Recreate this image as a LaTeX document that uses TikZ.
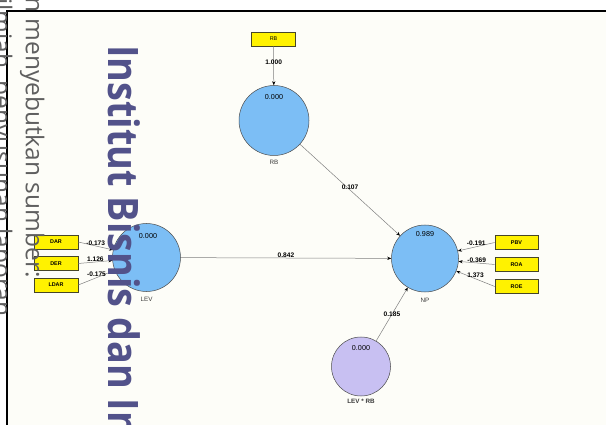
\documentclass[tikz,border=0pt]{standalone}
\usepackage{fontspec}
\setmainfont{Liberation Sans}
\newfontfamily\wmfont{Open Sans}
\newfontfamily\wmboldfont{Open Sans}[FakeStretch=0.9]
\usetikzlibrary{arrows.meta}
\definecolor{bgc}{RGB}{253,253,248}
\definecolor{latfill}{RGB}{124,190,245}
\definecolor{intfill}{RGB}{200,192,242}
\definecolor{latdraw}{RGB}{75,75,75}
\definecolor{edgec}{RGB}{128,128,128}
\definecolor{boxdraw}{RGB}{70,70,40}
\definecolor{wmblue}{RGB}{82,82,138}
\definecolor{wmgray}{RGB}{95,95,95}
\definecolor{capc}{RGB}{60,60,60}
\begin{document}
\begin{tikzpicture}[x=1pt,y=-1pt,
  latent/.style={circle, draw=latdraw, line width=0.5pt, fill=latfill, inner sep=0pt},
  ind/.style={rectangle, draw=boxdraw, line width=0.6pt, fill=yellow, minimum width=44pt, minimum height=14pt, inner sep=0pt, font=\fontsize{5.4}{6}\selectfont\bfseries},
  pathar/.style={draw=edgec, line width=0.5pt, -{Stealth[length=4pt,width=3.2pt,color=black]}},
  coef/.style={font=\fontsize{6.6}{7}\selectfont\bfseries, inner sep=0.6pt, text=black},
  valtxt/.style={font=\fontsize{7.2}{8}\selectfont, inner sep=0pt},
  captxt/.style={font=\fontsize{6.3}{7}\selectfont, text=capc, inner sep=0pt},
  wmbig/.style={rotate=-90, anchor=base west, text=wmblue, inner sep=0pt, font=\wmboldfont\bfseries\fontsize{42}{50}\selectfont},
  wmsmall/.style={rotate=-90, anchor=base west, text=wmgray, inner sep=0pt, font=\wmfont\fontsize{24.5}{30}\selectfont}
]
\useasboundingbox (0,0) rectangle (606,425);
\fill[white] (0,0) rectangle (606,425);
\fill[bgc] (7,11) rectangle (606,425);

% latent variables
\node[latent, minimum size=70pt] (RB) at (274,120.5) {};
\node[latent, minimum size=68pt] (LEV) at (146.5,257.5) {};
\node[latent, minimum size=67pt] (NP) at (425,258.5) {};
\node[latent, fill=intfill, minimum size=59pt] (LEVRB) at (361,366.5) {};

\node[valtxt] (RBv) at (274,97) {0.000};
\node[valtxt] (LEVv) at (148,236) {0.000};
\node[valtxt] (NPv) at (425,234) {0.989};
\node[valtxt] (LEVRBv) at (361,348) {0.000};

\node[captxt] (RBc) at (274,162) {RB};
\node[captxt] (LEVc) at (146.5,299) {LEV};
\node[captxt] (NPc) at (425,300) {NP};
\node[captxt, font=\fontsize{6.3}{7}\selectfont\bfseries] (LEVRBc) at (361,401) {LEV * RB};

% indicators
\node[ind, font=\fontsize{5.4}{6}\selectfont] (RBi) at (273.5,39) {RB};
\node[ind] (DAR) at (56,242) {DAR};
\node[ind] (DER) at (56,263.5) {DER};
\node[ind] (LDAR) at (56,285) {LDAR};
\node[ind, minimum width=43pt] (PBV) at (516.5,242.5) {PBV};
\node[ind, minimum width=43pt] (ROA) at (516.5,264.5) {ROA};
\node[ind, minimum width=43pt] (ROE) at (516.5,286.5) {ROE};

% paths
\draw[pathar] (RBi) -- node[coef, above] {1.000} (RB);
\draw[pathar] (RB) -- node[coef, above] {0.107} (NP);
\draw[pathar] (LEV) -- node[coef, above] {0.842} (NP);
\draw[pathar] (LEVRB) -- node[coef] {0.185} (NP);
\draw[pathar] (DAR.east) -- node[coef, above] {-0.173} (LEV);
\draw[pathar] (DER.east) -- node[coef, above] {1.126} (LEV);
\draw[pathar] (LDAR.east) -- node[coef, above] {-0.175} (LEV);
\draw[pathar] (PBV.west) -- node[coef, above] {-0.191} (NP);
\draw[pathar] (ROA.west) -- node[coef, above] {-0.369} (NP);
\draw[pathar] (ROE.west) -- node[coef, above] {1.373} (NP);

% frame
\draw[line width=1.5pt] (7,425) -- (7,11) -- (606,11);

% watermark texts
\node[wmsmall] (wmA) at (26,-3) {n menyebutkan sumber:};
\node[wmsmall] (wmB) at (-6,-2) {ilmiah, penyusunan laporan};
\node[wmbig] (wmC) at (108,45) {Institut Bisnis dan In};
\end{tikzpicture}
\end{document}
